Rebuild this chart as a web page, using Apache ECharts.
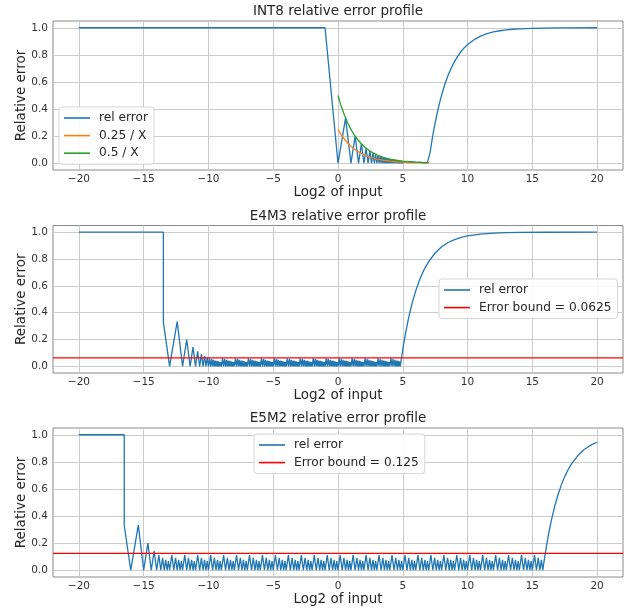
<!DOCTYPE html>
<html>
<head>
<meta charset="utf-8">
<script src="https://cdn.jsdelivr.net/npm/echarts@6/dist/echarts.min.js"></script>
<style>
html,body{margin:0;padding:0;background:#fff;}
#chart{width:639px;height:611px;}
</style>
</head>
<body>
<div id="chart"></div>
<script>
// ---- axis ranges and ticks ----
const xMin = -22, xMax = 22, yMin = -0.05, yMax = 1.05;
const xTicks = [-20, -15, -10, -5, 0, 5, 10, 15, 20];
const yTicks = [0, 0.2, 0.4, 0.6, 0.8, 1.0];

const titles = ['INT8 relative error profile', 'E4M3 relative error profile', 'E5M2 relative error profile'];

// ---- INT8 ----
const int8RelError = [
  [-20,1],[-1,1],[0,0],[0.585,0.333],[1,0],[1.322,0.2],[1.585,0],[1.807,0.143],[2,0],
  [2.17,0.111],[2.322,0],[2.459,0.091],[2.585,0],[2.7,0.077],[2.807,0],[2.907,0.067],[3,0],
  [3.087,0.059],[3.17,0],[3.248,0.053],[3.322,0],[3.392,0.048],[3.459,0],[3.524,0.043],[3.585,0],
  [3.644,0.04],[3.7,0],[3.755,0.037],[3.807,0],[3.858,0.034],[3.907,0],[3.954,0.032],[4,0],
  [4.044,0.03],[4.087,0],[4.129,0.029],[4.17,0],[4.209,0.027],[4.248,0],[4.285,0.026],[4.322,0],
  [4.358,0.024],[4.392,0],[4.426,0.023],[4.459,0],[4.492,0.022],[4.524,0],[4.555,0.021],[4.585,0],
  [4.615,0.02],[4.644,0],[4.7,0.019],[4.75,0],[4.8,0.017],[4.85,0],[4.9,0.016],[4.95,0],
  [5.05,0.014],[5.1,0],[5.25,0.012],[5.3,0],[5.5,0.01],[5.55,0],[5.75,0.009],[5.8,0],
  [6,0.007],[6.05,0],[6.3,0.006],[6.35,0],[6.6,0.005],[6.65,0],[6.9,0.004],[6.95,0],[7,0.008],
  [7.1,0.074],[7.2,0.136],[7.3,0.194],[7.4,0.248],[7.5,0.298],[7.6,0.345],[7.7,0.389],[7.8,0.43],
  [7.9,0.468],[8,0.504],[8.25,0.583],[8.5,0.649],[8.75,0.705],[9,0.752],[9.25,0.791],[9.5,0.825],
  [9.75,0.853],[10,0.876],[10.5,0.912],[11,0.938],[11.5,0.956],[12,0.969],[12.5,0.978],[13,0.984],
  [13.5,0.989],[14,0.992],[15,0.996],[16,0.998],[17,0.999],[18,0.9995],[20,1]
];
const int8Quarter = [
  [0,0.25],[0.25,0.21],[0.5,0.177],[0.75,0.149],[1,0.125],[1.25,0.105],[1.5,0.088],[1.75,0.074],
  [2,0.0625],[2.25,0.053],[2.5,0.044],[2.75,0.037],[3,0.031],[3.5,0.022],[4,0.016],[4.5,0.011],
  [5,0.008],[5.5,0.0055],[6,0.0039],[6.5,0.0028],[7,0.002]
];
const int8Half = [
  [0,0.5],[0.25,0.42],[0.5,0.354],[0.75,0.297],[1,0.25],[1.25,0.21],[1.5,0.177],[1.75,0.149],
  [2,0.125],[2.25,0.105],[2.5,0.088],[2.75,0.074],[3,0.0625],[3.5,0.044],[4,0.031],[4.5,0.022],
  [5,0.016],[5.5,0.011],[6,0.008],[6.5,0.0055],[7,0.0039]
];

// ---- E4M3 ----
const e4m3Bound = 0.0625;
const e4m3RelError = [
  [-20,1],[-13.48,1],[-13.48,0.33],[-13,0],[-12.415,0.333],[-12,0],[-11.678,0.2],[-11.415,0],
  [-11.193,0.143],[-11,0],[-10.83,0.111],[-10.678,0],[-10.541,0.091],[-10.415,0],[-10.3,0.077],
  [-10.193,0],[-10.093,0.067],[-10,0],
  [-9.912,0.059],[-9.83,0],[-9.752,0.053],[-9.678,0],[-9.608,0.048],[-9.541,0],[-9.476,0.043],[-9.415,0],[-9.356,0.04],[-9.3,0],[-9.245,0.037],[-9.193,0],[-9.142,0.034],[-9.093,0],[-9.046,0.032],[-9,0],
  [-8.912,0.059],[-8.83,0],[-8.752,0.053],[-8.678,0],[-8.608,0.048],[-8.541,0],[-8.476,0.043],[-8.415,0],[-8.356,0.04],[-8.3,0],[-8.245,0.037],[-8.193,0],[-8.142,0.034],[-8.093,0],[-8.046,0.032],[-8,0],
  [-7.912,0.059],[-7.83,0],[-7.752,0.053],[-7.678,0],[-7.608,0.048],[-7.541,0],[-7.476,0.043],[-7.415,0],[-7.356,0.04],[-7.3,0],[-7.245,0.037],[-7.193,0],[-7.142,0.034],[-7.093,0],[-7.046,0.032],[-7,0],
  [-6.912,0.059],[-6.83,0],[-6.752,0.053],[-6.678,0],[-6.608,0.048],[-6.541,0],[-6.476,0.043],[-6.415,0],[-6.356,0.04],[-6.3,0],[-6.245,0.037],[-6.193,0],[-6.142,0.034],[-6.093,0],[-6.046,0.032],[-6,0],
  [-5.912,0.059],[-5.83,0],[-5.752,0.053],[-5.678,0],[-5.608,0.048],[-5.541,0],[-5.476,0.043],[-5.415,0],[-5.356,0.04],[-5.3,0],[-5.245,0.037],[-5.193,0],[-5.142,0.034],[-5.093,0],[-5.046,0.032],[-5,0],
  [-4.912,0.059],[-4.83,0],[-4.752,0.053],[-4.678,0],[-4.608,0.048],[-4.541,0],[-4.476,0.043],[-4.415,0],[-4.356,0.04],[-4.3,0],[-4.245,0.037],[-4.193,0],[-4.142,0.034],[-4.093,0],[-4.046,0.032],[-4,0],
  [-3.912,0.059],[-3.83,0],[-3.752,0.053],[-3.678,0],[-3.608,0.048],[-3.541,0],[-3.476,0.043],[-3.415,0],[-3.356,0.04],[-3.3,0],[-3.245,0.037],[-3.193,0],[-3.142,0.034],[-3.093,0],[-3.046,0.032],[-3,0],
  [-2.912,0.059],[-2.83,0],[-2.752,0.053],[-2.678,0],[-2.608,0.048],[-2.541,0],[-2.476,0.043],[-2.415,0],[-2.356,0.04],[-2.3,0],[-2.245,0.037],[-2.193,0],[-2.142,0.034],[-2.093,0],[-2.046,0.032],[-2,0],
  [-1.912,0.059],[-1.83,0],[-1.752,0.053],[-1.678,0],[-1.608,0.048],[-1.541,0],[-1.476,0.043],[-1.415,0],[-1.356,0.04],[-1.3,0],[-1.245,0.037],[-1.193,0],[-1.142,0.034],[-1.093,0],[-1.046,0.032],[-1,0],
  [-0.912,0.059],[-0.83,0],[-0.752,0.053],[-0.678,0],[-0.608,0.048],[-0.541,0],[-0.476,0.043],[-0.415,0],[-0.356,0.04],[-0.3,0],[-0.245,0.037],[-0.193,0],[-0.142,0.034],[-0.093,0],[-0.046,0.032],[0,0],
  [0.088,0.059],[0.17,0],[0.248,0.053],[0.322,0],[0.392,0.048],[0.459,0],[0.524,0.043],[0.585,0],[0.644,0.04],[0.7,0],[0.755,0.037],[0.807,0],[0.858,0.034],[0.907,0],[0.954,0.032],[1,0],
  [1.088,0.059],[1.17,0],[1.248,0.053],[1.322,0],[1.392,0.048],[1.459,0],[1.524,0.043],[1.585,0],[1.644,0.04],[1.7,0],[1.755,0.037],[1.807,0],[1.858,0.034],[1.907,0],[1.954,0.032],[2,0],
  [2.088,0.059],[2.17,0],[2.248,0.053],[2.322,0],[2.392,0.048],[2.459,0],[2.524,0.043],[2.585,0],[2.644,0.04],[2.7,0],[2.755,0.037],[2.807,0],[2.858,0.034],[2.907,0],[2.954,0.032],[3,0],
  [3.088,0.059],[3.17,0],[3.248,0.053],[3.322,0],[3.392,0.048],[3.459,0],[3.524,0.043],[3.585,0],[3.644,0.04],[3.7,0],[3.755,0.037],[3.807,0],[3.858,0.034],[3.907,0],[3.954,0.032],[4,0],
  [4.088,0.059],[4.17,0],[4.248,0.053],[4.322,0],[4.392,0.048],[4.459,0],[4.524,0.043],[4.585,0],[4.644,0.04],[4.7,0],[4.755,0.037],[4.807,0],
  [4.9,0.062],[5,0.125],[5.1,0.184],[5.2,0.238],[5.3,0.289],[5.4,0.337],[5.5,0.381],[5.75,0.48],
  [6,0.5625],[6.25,0.632],[6.5,0.691],[6.75,0.74],[7,0.781],[7.5,0.845],[8,0.891],[8.5,0.923],
  [9,0.945],[9.5,0.961],[10,0.973],[11,0.986],[12,0.993],[13,0.997],[14,0.998],[16,0.9996],[20,1]
];

// ---- E5M2 ----
const e5m2Bound = 0.125;
const e5m2RelError = [
  [-20,1],[-16.5,1],[-16.5,0.33],[-16,0],[-15.415,0.333],[-15,0],[-14.678,0.2],[-14.415,0],[-14.193,0.143],[-14,0],
  [-13.83,0.111],[-13.678,0],[-13.541,0.091],[-13.415,0],[-13.3,0.077],[-13.193,0],[-13.093,0.067],[-13,0],
  [-12.83,0.111],[-12.678,0],[-12.541,0.091],[-12.415,0],[-12.3,0.077],[-12.193,0],[-12.093,0.067],[-12,0],
  [-11.83,0.111],[-11.678,0],[-11.541,0.091],[-11.415,0],[-11.3,0.077],[-11.193,0],[-11.093,0.067],[-11,0],
  [-10.83,0.111],[-10.678,0],[-10.541,0.091],[-10.415,0],[-10.3,0.077],[-10.193,0],[-10.093,0.067],[-10,0],
  [-9.83,0.111],[-9.678,0],[-9.541,0.091],[-9.415,0],[-9.3,0.077],[-9.193,0],[-9.093,0.067],[-9,0],
  [-8.83,0.111],[-8.678,0],[-8.541,0.091],[-8.415,0],[-8.3,0.077],[-8.193,0],[-8.093,0.067],[-8,0],
  [-7.83,0.111],[-7.678,0],[-7.541,0.091],[-7.415,0],[-7.3,0.077],[-7.193,0],[-7.093,0.067],[-7,0],
  [-6.83,0.111],[-6.678,0],[-6.541,0.091],[-6.415,0],[-6.3,0.077],[-6.193,0],[-6.093,0.067],[-6,0],
  [-5.83,0.111],[-5.678,0],[-5.541,0.091],[-5.415,0],[-5.3,0.077],[-5.193,0],[-5.093,0.067],[-5,0],
  [-4.83,0.111],[-4.678,0],[-4.541,0.091],[-4.415,0],[-4.3,0.077],[-4.193,0],[-4.093,0.067],[-4,0],
  [-3.83,0.111],[-3.678,0],[-3.541,0.091],[-3.415,0],[-3.3,0.077],[-3.193,0],[-3.093,0.067],[-3,0],
  [-2.83,0.111],[-2.678,0],[-2.541,0.091],[-2.415,0],[-2.3,0.077],[-2.193,0],[-2.093,0.067],[-2,0],
  [-1.83,0.111],[-1.678,0],[-1.541,0.091],[-1.415,0],[-1.3,0.077],[-1.193,0],[-1.093,0.067],[-1,0],
  [-0.83,0.111],[-0.678,0],[-0.541,0.091],[-0.415,0],[-0.3,0.077],[-0.193,0],[-0.093,0.067],[0,0],
  [0.17,0.111],[0.322,0],[0.459,0.091],[0.585,0],[0.7,0.077],[0.807,0],[0.907,0.067],[1,0],
  [1.17,0.111],[1.322,0],[1.459,0.091],[1.585,0],[1.7,0.077],[1.807,0],[1.907,0.067],[2,0],
  [2.17,0.111],[2.322,0],[2.459,0.091],[2.585,0],[2.7,0.077],[2.807,0],[2.907,0.067],[3,0],
  [3.17,0.111],[3.322,0],[3.459,0.091],[3.585,0],[3.7,0.077],[3.807,0],[3.907,0.067],[4,0],
  [4.17,0.111],[4.322,0],[4.459,0.091],[4.585,0],[4.7,0.077],[4.807,0],[4.907,0.067],[5,0],
  [5.17,0.111],[5.322,0],[5.459,0.091],[5.585,0],[5.7,0.077],[5.807,0],[5.907,0.067],[6,0],
  [6.17,0.111],[6.322,0],[6.459,0.091],[6.585,0],[6.7,0.077],[6.807,0],[6.907,0.067],[7,0],
  [7.17,0.111],[7.322,0],[7.459,0.091],[7.585,0],[7.7,0.077],[7.807,0],[7.907,0.067],[8,0],
  [8.17,0.111],[8.322,0],[8.459,0.091],[8.585,0],[8.7,0.077],[8.807,0],[8.907,0.067],[9,0],
  [9.17,0.111],[9.322,0],[9.459,0.091],[9.585,0],[9.7,0.077],[9.807,0],[9.907,0.067],[10,0],
  [10.17,0.111],[10.322,0],[10.459,0.091],[10.585,0],[10.7,0.077],[10.807,0],[10.907,0.067],[11,0],
  [11.17,0.111],[11.322,0],[11.459,0.091],[11.585,0],[11.7,0.077],[11.807,0],[11.907,0.067],[12,0],
  [12.17,0.111],[12.322,0],[12.459,0.091],[12.585,0],[12.7,0.077],[12.807,0],[12.907,0.067],[13,0],
  [13.17,0.111],[13.322,0],[13.459,0.091],[13.585,0],[13.7,0.077],[13.807,0],[13.907,0.067],[14,0],
  [14.17,0.111],[14.322,0],[14.459,0.091],[14.585,0],[14.7,0.077],[14.807,0],[14.907,0.067],[15,0],
  [15.17,0.111],[15.322,0],[15.459,0.091],[15.585,0],[15.7,0.077],[15.807,0],
  [15.9,0.062],[16,0.125],[16.1,0.184],[16.2,0.238],[16.3,0.289],[16.4,0.337],[16.5,0.381],[16.75,0.48],
  [17,0.5625],[17.25,0.632],[17.5,0.691],[17.75,0.74],[18,0.781],[18.5,0.845],[19,0.891],[19.5,0.923],[20,0.945]
];

// ---- styling ----
const FONT = 'DejaVu Sans';
const BLUE = '#1f77b4', ORANGE = '#ff7f0e', GREEN = '#2ca02c', RED = '#ff0000';
const gridBoxes = [
  {left: 53, top: 21, width: 570, height: 149},
  {left: 53, top: 225.5, width: 570, height: 147.5},
  {left: 53, top: 428, width: 570, height: 149}
];

const chart = echarts.init(document.getElementById('chart'), null, {renderer: 'canvas'});

const grids = gridBoxes.map(g => Object.assign({
  show: true, borderColor: '#8a8a8a', borderWidth: 1, backgroundColor: 'transparent',
  containLabel: false, outerBoundsMode: 'none'
}, g));

const xAxes = gridBoxes.map((g, i) => ({
  gridIndex: i, type: 'value', min: xMin, max: xMax,
  name: 'Log2 of input', nameLocation: 'middle', nameGap: 15, nameMoveOverlap: false,
  nameTextStyle: {fontFamily: FONT, fontSize: 13.5, color: '#262626'},
  axisLine: {show: false},
  axisTick: {show: false, customValues: xTicks},
  axisLabel: {customValues: xTicks, margin: 4, fontFamily: FONT, fontSize: 10.5, color: '#333',
    formatter: v => String(v).replace('-', '\u2212')},
  splitLine: {show: true, lineStyle: {color: '#cccccc', width: 1}}
}));

const yAxes = gridBoxes.map((g, i) => ({
  gridIndex: i, type: 'value', min: yMin, max: yMax,
  name: 'Relative error', nameLocation: 'middle', nameGap: 25, nameRotate: 90, nameMoveOverlap: false,
  nameTextStyle: {fontFamily: FONT, fontSize: 13.5, color: '#262626'},
  axisLine: {show: false},
  axisTick: {show: false, customValues: yTicks},
  axisLabel: {customValues: yTicks, margin: 5, fontFamily: FONT, fontSize: 10.5, color: '#333',
    formatter: v => v.toFixed(1)},
  splitLine: {show: true, lineStyle: {color: '#cccccc', width: 1}}
}));

const titleComps = titles.map((t, i) => ({
  text: t, left: 338, textAlign: 'center', top: gridBoxes[i].top - 16.5, padding: 0,
  textStyle: {fontFamily: FONT, fontSize: 13.5, fontWeight: 'normal', color: '#262626'}
}));

function lineSeries(name, data, color, i) {
  return {name, type: 'line', xAxisIndex: i, yAxisIndex: i, data, color,
    symbol: 'none', showSymbol: false, animation: false,
    lineStyle: {color, width: 1.3}};
}

const legendBase = {
  orient: 'vertical', itemWidth: 26, itemHeight: 1.6, icon: 'rect', itemGap: 3.6,
  padding: [4, 6, 4, 5], backgroundColor: 'rgba(255,255,255,0.85)',
  borderColor: '#d5d5d5', borderWidth: 1, borderRadius: 3,
  textStyle: {fontFamily: FONT, fontSize: 12.2, color: '#262626', lineHeight: 14, padding: [0, 0, 0, 4]}
};

const option = {
  backgroundColor: '#ffffff',
  animation: false,
  title: titleComps,
  grid: grids,
  xAxis: xAxes,
  yAxis: yAxes,
  legend: [
    Object.assign({}, legendBase, {data: ['rel error', '0.25 / X', '0.5 / X'], left: 59, top: 107}),
    Object.assign({}, legendBase, {data: ['rel error', 'Error bound = 0.0625'], left: 439, top: 279}),
    Object.assign({}, legendBase, {data: ['rel error', 'Error bound = 0.125'], left: 254, top: 434})
  ],
  series: [
    lineSeries('rel error', int8RelError, BLUE, 0),
    lineSeries('0.25 / X', int8Quarter, ORANGE, 0),
    lineSeries('0.5 / X', int8Half, GREEN, 0),
    lineSeries('rel error', e4m3RelError, BLUE, 1),
    lineSeries('Error bound = 0.0625', [[xMin, e4m3Bound], [xMax, e4m3Bound]], RED, 1),
    lineSeries('rel error', e5m2RelError, BLUE, 2),
    lineSeries('Error bound = 0.125', [[xMin, e5m2Bound], [xMax, e5m2Bound]], RED, 2)
  ]
};
chart.setOption(option);
</script>
</body>
</html>
